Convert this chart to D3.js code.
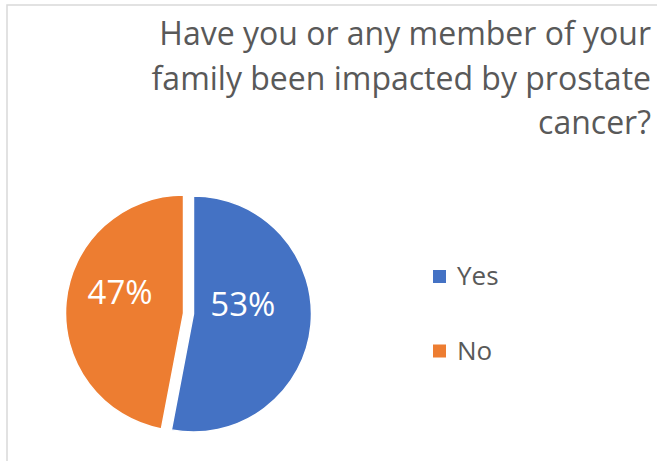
<!DOCTYPE html>
<html>
<head>
<meta charset="utf-8">
<script src="https://cdn.jsdelivr.net/npm/d3@7"></script>
<style>
  html, body { margin: 0; padding: 0; background: #fff; }
  svg { display: block; }
  text { font-family: "Open Sans", "Liberation Sans", sans-serif; }
</style>
</head>
<body>
<svg id="chart" width="657" height="461"></svg>
<script>
const titleLines = ["Have you or any member of your", "family been impacted by prostate", "cancer?"];
const categories = ["Yes", "No"];
const values = [53, 47];
const colors = ["#4472C4", "#ED7D31"];

const W = 657, H = 461;
const svg = d3.select("#chart");

// chart area border (extends beyond right/bottom edges)
svg.append("rect")
  .attr("x", 7).attr("y", 5)
  .attr("width", W + 10).attr("height", H + 10)
  .attr("fill", "#fff")
  .attr("stroke", "#d9d9d9").attr("stroke-width", 1.5);

// title, right aligned
const title = svg.append("text")
  .attr("text-anchor", "end")
  .attr("fill", "#595959")
  .style("font-size", "32px");
titleLines.forEach((t, i) => {
  title.append("tspan").attr("x", 651).attr("y", 45 + i * 44.5).text(t);
});

// pie
const cx = 188.5, cy = 313.5, r = 118, explode = 5;
const pie = d3.pie().sort(null).value(d => d)(values);
const arc = d3.arc().innerRadius(0).outerRadius(r);
const total = d3.sum(values);

const g = svg.append("g").attr("transform", `translate(${cx},${cy})`);
const slices = g.selectAll("g.slice").data(pie).enter().append("g")
  .attr("class", "slice")
  .attr("transform", d => {
    const a = (d.startAngle + d.endAngle) / 2;
    return `translate(${Math.sin(a) * explode},${-Math.cos(a) * explode})`;
  });
slices.append("path")
  .attr("d", arc)
  .attr("fill", (d, i) => colors[i])
  .attr("stroke", "#fff").attr("stroke-width", 1.5);
slices.append("text")
  .attr("text-anchor", "middle")
  .attr("dominant-baseline", "central")
  .attr("fill", "#fff")
  .style("font-size", "33px")
  .attr("transform", d => {
    const a = (d.startAngle + d.endAngle) / 2;
    const lr = r * 0.48;
    return `translate(${Math.sin(a) * lr - 7},${-Math.cos(a) * lr - 16})`;
  })
  .text(d => Math.round(d.value / total * 100) + "%");

// legend
const legend = svg.append("g");
const ly = d3.scalePoint().domain(categories).range([276.5, 351]);
const items = legend.selectAll("g").data(categories).enter().append("g")
  .attr("transform", d => `translate(433,${ly(d)})`);
items.append("rect")
  .attr("x", 0).attr("y", -6.5).attr("width", 13).attr("height", 13)
  .attr("fill", (d, i) => colors[i]);
items.append("text")
  .attr("x", 24).attr("y", 8.5)
  .attr("fill", "#595959")
  .style("font-size", "26px")
  .text(d => d);
</script>
</body>
</html>
